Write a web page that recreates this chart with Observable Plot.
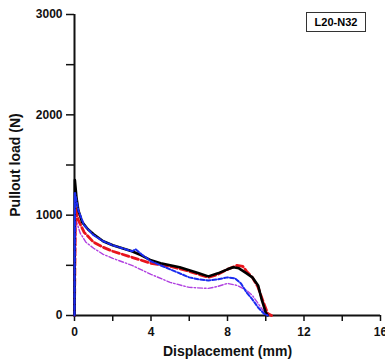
<!DOCTYPE html>
<html><head><meta charset="utf-8">
<script src="https://cdn.jsdelivr.net/npm/d3@7"></script>
<script src="https://cdn.jsdelivr.net/npm/@observablehq/plot@0.6"></script>
<style>
body{margin:0;background:#fff}
#c{position:relative;width:385px;height:362px;font-family:"Liberation Sans",Arial,sans-serif}
#leg{position:absolute;left:306px;top:12px;width:58px;height:18px;border:1px solid #333;font-weight:bold;font-size:11px;text-align:center;line-height:18px;background:#fff}
</style></head>
<body><div id="c"><div id="leg">L20-N32</div></div>
<script>
const blackX = [0,0.02,0.1,0.2,0.4,0.7,1,1.5,2,2.5,3,3.5,4,4.5,5,5.5,6,6.5,7,7.5,8,8.3,8.6,9,9.3,9.6,9.8,10,10.1];
const blackY = [0,1350,1180,1050,930,860,810,740,700,670,640,600,550,520,500,480,450,420,390,420,460,480,470,420,380,300,150,30,0];
const redX = [0,0.05,0.2,0.5,1,1.5,2,3,4,5,6,7,7.5,8,8.5,8.8,9,9.3,9.6,9.9,10.1,10.3];
const redY = [0,1080,950,830,730,680,640,580,520,490,440,380,410,460,500,490,440,380,280,120,20,0];
const blueX = [0,0.03,0.2,0.5,1,1.5,2,2.5,3,3.2,3.5,4,5,6,6.5,7,7.5,8,8.4,8.7,9,9.3,9.6,9.9,10.1];
const blueY = [0,1220,1050,900,800,740,700,670,640,660,610,540,460,380,360,350,360,380,370,320,230,160,80,20,0];
const purpleX = [0,0.08,0.3,0.6,1,1.5,2,3,4,5,6,7,7.5,8,8.5,9,9.3,9.6,9.9,10];
const purpleY = [0,950,820,730,670,610,570,500,410,330,280,270,290,320,300,250,200,120,40,0];
const xTicks = [0,2,4,6,8,10,12,14,16];
const yTicks = [0,500,1000,1500,2000,2500,3000];

const mk = (xs, ys) => xs.map((x, i) => ({x, y: ys[i]}));

const chart = Plot.plot({
  width: 385, height: 362,
  marginLeft: 74, marginRight: 5, marginTop: 14, marginBottom: 47,
  style: {fontFamily: '"Liberation Sans", Arial, sans-serif', fontWeight: "bold", fontSize: "12px", color: "#111"},
  x: {domain: [0, 16]},
  y: {domain: [0, 3000]},
  marks: [
    Plot.axisX({ticks: xTicks, tickFormat: d => d % 4 === 0 ? String(d) : "", tickSize: 6, tickPadding: 6, strokeWidth: 1.5, fontSize: 12, label: null}),
    Plot.axisX({ticks: [], label: "Displacement (mm)", labelAnchor: "center", labelOffset: 40, labelArrow: "none", fontSize: 14}),
    Plot.axisY({ticks: yTicks, tickFormat: d => d % 1000 === 0 ? String(d) : "", tickSize: 8, tickPadding: 4, strokeWidth: 1.5, fontSize: 12, label: null}),
    Plot.axisY({ticks: [], label: "Pullout load (N)", labelAnchor: "center", labelOffset: 64, labelArrow: "none", fontSize: 14}),
    Plot.ruleX([0], {y1: 0, y2: 3000, strokeWidth: 2}),
    Plot.ruleY([0], {x1: 0, x2: 16, strokeWidth: 2}),
    Plot.line(mk(purpleX, purpleY), {x: "x", y: "y", stroke: "#b040e0", strokeWidth: 1.4, strokeDasharray: "5,2,1.5,2"}),
    Plot.line(mk(redX, redY), {x: "x", y: "y", stroke: "#e8141c", strokeWidth: 2.8, strokeDasharray: "7,3"}),
    Plot.line(mk(blackX, blackY), {x: "x", y: "y", stroke: "#000", strokeWidth: 2.6}),
    Plot.line(mk(blueX, blueY), {x: "x", y: "y", stroke: "#1a2cf0", strokeWidth: 2, strokeDasharray: "4,2"}),
    Plot.ruleX([0], {y1: 0, y2: 1220, stroke: "#1a2cf0", strokeWidth: 1.5})
  ]
});
document.getElementById("c").appendChild(chart);
</script>
</body></html>
